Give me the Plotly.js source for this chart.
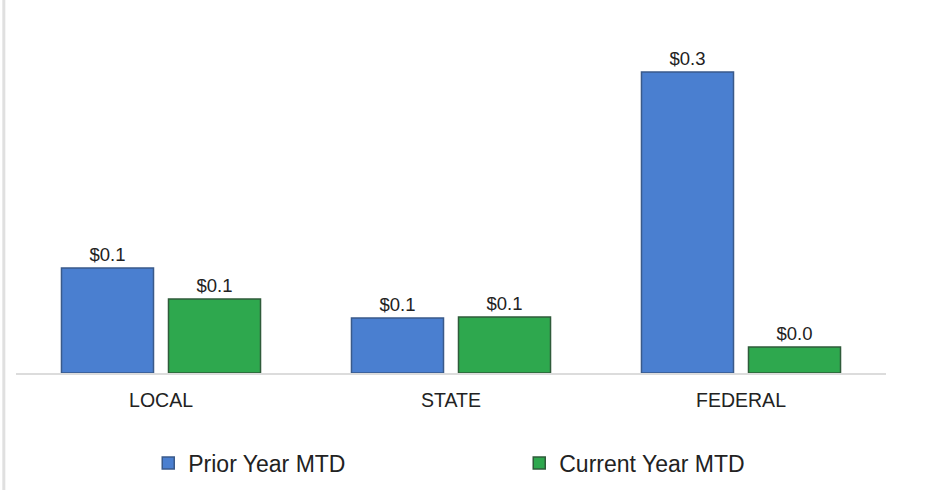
<!DOCTYPE html>
<html>
<head>
<meta charset="utf-8">
<script src="https://cdn.plot.ly/plotly-3.0.1.min.js"></script>
<style>html,body{margin:0;padding:0;background:#fff}#chart{width:930px;height:490px}</style>
</head>
<body>
<div id="chart"></div>
<script>
var categories = ["LOCAL", "STATE", "FEDERAL"];
var priorYearMTD = [0.105, 0.055, 0.301];
var currentYearMTD = [0.074, 0.056, 0.026];
var seriesNames = ["Prior Year MTD", "Current Year MTD"];

function labels(vals){ return vals.map(function(v){ return "$" + v.toFixed(1); }); }

var traces = [
  {type:"bar", name:seriesNames[0], x:categories, y:priorYearMTD,
   text:labels(priorYearMTD), textposition:"outside", cliponaxis:false,
   textfont:{family:"Liberation Sans, Arial, sans-serif", size:18.5, color:"#222"},
   marker:{color:"#4a7fd0", line:{color:"#3a5a8a", width:1.5}}, hoverinfo:"none"},
  {type:"bar", name:seriesNames[1], x:categories, y:currentYearMTD,
   text:labels(currentYearMTD), textposition:"outside", cliponaxis:false,
   textfont:{family:"Liberation Sans, Arial, sans-serif", size:18.5, color:"#222"},
   marker:{color:"#2ea84e", line:{color:"#2f5b3a", width:1.5}}, hoverinfo:"none"}
];

var layout = {
  width:930, height:490,
  margin:{l:16, r:44, t:43, b:117},
  paper_bgcolor:"#fff", plot_bgcolor:"#fff",
  barmode:"group", bargap:0.262, bargroupgap:0.14,
  font:{family:"Liberation Sans, Arial, sans-serif", color:"#222"},
  xaxis:{showline:true, linecolor:"#dcdcdc", linewidth:1.5, ticks:"",
         ticklabelstandoff:9,
         tickfont:{size:19.5, color:"#222"}, showgrid:false, zeroline:false},
  yaxis:{range:[0,0.33], visible:false, showgrid:false, zeroline:false},
  showlegend:true,
  legend:{orientation:"h", xref:"paper", x:0.152, xanchor:"left",
          yref:"container", y:0.055, yanchor:"middle",
          font:{size:23, color:"#222"}, entrywidth:326, entrywidthmode:"pixels",
          itemwidth:30, tracegroupgap:0},
  shapes:[{type:"line", xref:"paper", yref:"paper", x0:-0.014, x1:-0.014, y0:-0.4, y1:1.2,
           line:{color:"#e0e0e0", width:3}}]
};

Plotly.newPlot("chart", traces, layout, {displayModeBar:false, staticPlot:true});
</script>
</body>
</html>
